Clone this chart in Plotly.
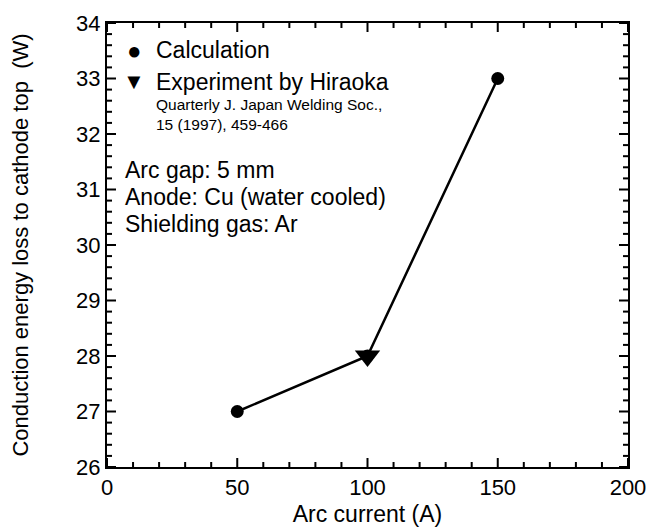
import plotly.graph_objects as go

calc_x = [50, 100, 150]
calc_y = [27, 28, 33]
exp_x = [100]
exp_y = [28]

x_major = [0, 50, 100, 150, 200]
x_minor = [v for v in range(0, 201, 10) if v % 50 != 0]
y_major = [26, 27, 28, 29, 30, 31, 32, 33, 34]
y_minor = [round(26 + 0.2 * i, 1) for i in range(41) if i % 5 != 0]

FONT = "Liberation Sans, Arial, Helvetica, sans-serif"

fig = go.Figure()
fig.add_trace(go.Scatter(x=calc_x, y=calc_y, mode="lines+markers",
                         line=dict(color="black", width=2.5),
                         marker=dict(symbol="circle", size=13, color="black"),
                         showlegend=False))
fig.add_trace(go.Scatter(x=exp_x, y=exp_y, mode="markers",
                         marker=dict(symbol="triangle-down", size=22, color="black"),
                         showlegend=False))

fig.update_xaxes(range=[0, 200], tickvals=x_major,
                 showline=True, linecolor="black", linewidth=2, mirror=True,
                 ticks="", showgrid=False, zeroline=False, automargin=False,
                 tickfont=dict(family=FONT, size=22, color="black"),
                 title=dict(text="Arc current (A)", font=dict(family=FONT, size=23, color="black"), standoff=6))
fig.update_yaxes(range=[26, 34], tickvals=y_major,
                 showline=True, linecolor="black", linewidth=2, mirror=True,
                 ticks="", showgrid=False, zeroline=False, automargin=False,
                 tickfont=dict(family=FONT, size=22, color="black"),
                 title=dict(text="Conduction energy loss to cathode top  (W)", font=dict(family=FONT, size=22, color="black"), standoff=41))

# inside tick marks on all four sides, drawn from the tick arrays
def xtick(v, length):
    for base in (0, 1):
        fig.add_shape(type="line", xref="x", yref="paper", ysizemode="pixel", yanchor=base,
                      x0=v, x1=v, y0=0, y1=length if base == 0 else -length,
                      line=dict(color="black", width=2), layer="above")

def ytick(v, length):
    for base in (0, 1):
        fig.add_shape(type="line", yref="y", xref="paper", xsizemode="pixel", xanchor=base,
                      y0=v, y1=v, x0=0, x1=length if base == 0 else -length,
                      line=dict(color="black", width=2), layer="above")

for v in x_major:
    xtick(v, 9)
for v in x_minor:
    xtick(v, 5)
for v in y_major:
    ytick(v, 9)
for v in y_minor:
    ytick(v, 5)

def px(xp):
    return (xp - 107) / 521
def py(yp):
    return (467 - yp) / 444

def ann(xp, yp, text, size, xanchor="left"):
    fig.add_annotation(x=px(xp), y=py(yp), xref="paper", yref="paper", text=text, showarrow=False,
                       xanchor=xanchor, yanchor="middle",
                       font=dict(family=FONT, size=size, color="black"))

ann(134, 50, "●", 24, "center")
ann(154, 50, "Calculation", 23)
ann(134, 82, "▼", 22, "center")
ann(154, 82, "Experiment by Hiraoka", 23)
ann(154, 104, "Quarterly J. Japan Welding Soc.,", 15.5)
ann(154, 124, "15 (1997), 459-466", 15.5)
ann(123, 170, "Arc gap: 5 mm", 23)
ann(123, 197, "Anode: Cu (water cooled)", 23)
ann(123, 224, "Shielding gas: Ar", 23)

fig.update_layout(width=651, height=529,
                  margin=dict(l=107, r=23, t=23, b=62),
                  paper_bgcolor="white", plot_bgcolor="white",
                  font=dict(family=FONT, color="black"))

fig.write_html("out.html")
